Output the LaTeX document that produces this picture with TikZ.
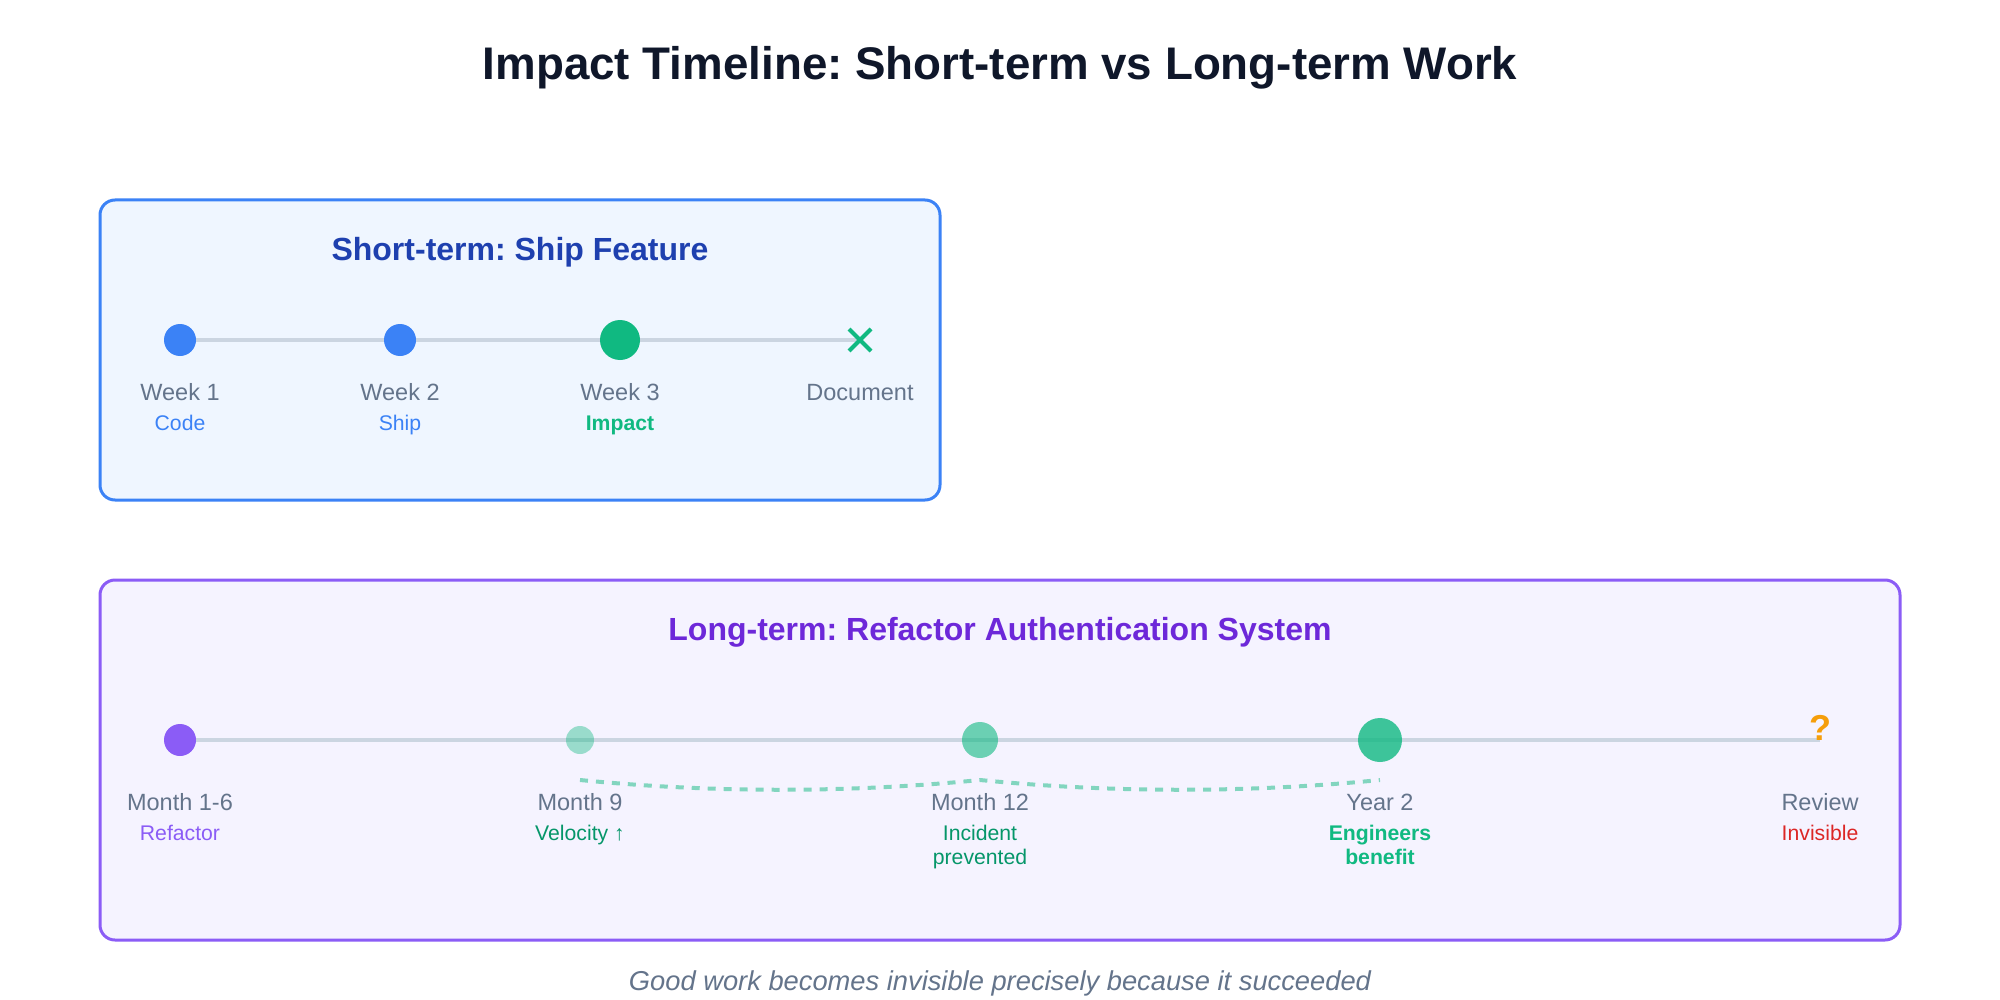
\documentclass[tikz,border=0pt]{standalone}
\usepackage{fontspec}
\setmainfont{Liberation Sans}
\frenchspacing
\usetikzlibrary{positioning,shapes.misc}
\definecolor{tinta}{HTML}{0F172A}
\definecolor{azul}{HTML}{3B82F6}
\definecolor{azulFundo}{HTML}{EFF6FF}
\definecolor{azulEscuro}{HTML}{1E40AF}
\definecolor{roxo}{HTML}{8B5CF6}
\definecolor{roxoFundo}{HTML}{F5F3FF}
\definecolor{roxoEscuro}{HTML}{6D28D9}
\definecolor{verde}{HTML}{10B981}
\definecolor{verdeEscuro}{HTML}{059669}
\definecolor{cinza}{HTML}{64748B}
\definecolor{trilhaCor}{HTML}{CBD5E1}
\definecolor{ambar}{HTML}{F59E0B}
\definecolor{vermelho}{HTML}{DC2626}
\pgfdeclarelayer{fundo}
\pgfdeclarelayer{trilhas}
\pgfsetlayers{fundo,trilhas,main}
\tikzset{
  painel/.style={rectangle, rounded corners=7.5pt, line width=1.5pt, inner sep=0pt},
  titulo/.style={font=\fontsize{22.85}{27}\selectfont\bfseries, text=tinta, anchor=base},
  subtitulo/.style={font=\fontsize{16}{19}\selectfont\bfseries, anchor=base},
  ponto/.style={circle, inner sep=0pt, draw=none},
  rotulo/.style={font=\fontsize{11.75}{14}\selectfont, text=cinza, anchor=base, inner sep=0pt},
  nota/.style={font=\fontsize{10.6}{12}\selectfont, anchor=base, align=center, inner sep=0pt},
  trilha/.style={line width=2pt, draw=trilhaCor},
  onda/.style={line width=2pt, draw=verde, draw opacity=0.5, dash pattern=on 4pt off 4pt},
  cruz/.style={cross out, draw=verde, line width=2pt, minimum size=9pt, inner sep=0pt},
}
\begin{document}
\begin{tikzpicture}[x=0.5pt, y=-0.5pt]
  \useasboundingbox (0,0) rectangle (2000,1000);
  \node[titulo] (tit) at (1000,80) {Impact Timeline: Short-term vs Long-term Work};

  % panels behind everything
  \begin{pgfonlayer}{fundo}
    \fill[white] (0,0) rectangle (2000,1000);
    \node[painel, draw=azul, fill=azulFundo, minimum width=420pt, minimum height=150pt] (curto) at (520,350) {};
    \node[painel, draw=roxo, fill=roxoFundo, minimum width=900pt, minimum height=180pt] (longo) at (1000,760) {};
  \end{pgfonlayer}

  % short-term
  \node[subtitulo, text=azulEscuro] (subCurto) at (520,260) {Short-term: Ship Feature};

  \node[ponto, fill=azul, minimum size=16pt] (w1) at (180,340) {};
  \node[ponto, fill=azul, minimum size=16pt] (w2) at (400,340) {};
  \node[ponto, fill=verde, minimum size=20pt] (w3) at (620,340) {};
  \node[cruz] (doc) at (860,340) {};
  \begin{pgfonlayer}{trilhas}
    \draw[trilha] (w1.center) -- (doc.center);
  \end{pgfonlayer}

  \node[rotulo] (lw1) at (180,400) {Week 1};
  \node[rotulo] (lw2) at (400,400) {Week 2};
  \node[rotulo] (lw3) at (620,400) {Week 3};
  \node[rotulo] (ldoc) at (860,400) {Document};
  \node[nota, text=azul] (nw1) at (180,430) {Code};
  \node[nota, text=azul] (nw2) at (400,430) {Ship};
  \node[nota, text=verde, font=\fontsize{10.6}{12}\selectfont\bfseries] (nw3) at (620,430) {Impact};

  % long-term
  \node[subtitulo, text=roxoEscuro] (subLongo) at (1000,640) {Long-term: Refactor Authentication System};

  \node[ponto, fill=roxo, minimum size=16pt] (m16) at (180,740) {};
  \node[ponto, fill=verde, fill opacity=0.4, minimum size=14pt] (m9) at (580,740) {};
  \node[ponto, fill=verde, fill opacity=0.6, minimum size=18pt] (m12) at (980,740) {};
  \node[ponto, fill=verde, fill opacity=0.8, minimum size=22pt] (y2) at (1380,740) {};
  \coordinate (fimLongo) at (1820,740);
  \node[font=\fontsize{18}{20}\selectfont\bfseries, text=ambar, anchor=base, inner sep=0pt] (rev) at (fimLongo) {?};
  \begin{pgfonlayer}{trilhas}
    \draw[trilha] (m16.center) -- (fimLongo);
  \end{pgfonlayer}

  \coordinate (o1) at (580,780);
  \coordinate (o2) at (980,780);
  \coordinate (o3) at (1380,780);
  \draw[onda] (o1) .. controls (713,793) and (847,793) .. (o2)
              .. controls (1113,793) and (1247,793) .. (o3);

  \node[rotulo] (lm16) at (180,810) {Month 1-6};
  \node[rotulo] (lm9) at (580,810) {Month 9};
  \node[rotulo] (lm12) at (980,810) {Month 12};
  \node[rotulo] (ly2) at (1380,810) {Year 2};
  \node[rotulo] (lrev) at (1820,810) {Review};
  \node[nota, text=roxo] (nm16) at (180,840) {Refactor};
  \node[nota, text=verdeEscuro] (nm9) at (580,840) {Velocity ↑};
  \node[nota, text=verdeEscuro] (nm12) at (980,864) {Incident\\prevented};
  \node[nota, text=verde, font=\fontsize{10.6}{12}\selectfont\bfseries] (ny2) at (1380,864) {Engineers\\benefit};
  \node[nota, text=vermelho] (nrev) at (1820,840) {Invisible};

  \node[font=\fontsize{13.65}{16}\selectfont\itshape, text=cinza, anchor=base] (rodape) at (1000,990)
       {Good work becomes invisible precisely because it succeeded};
\end{tikzpicture}
\end{document}
